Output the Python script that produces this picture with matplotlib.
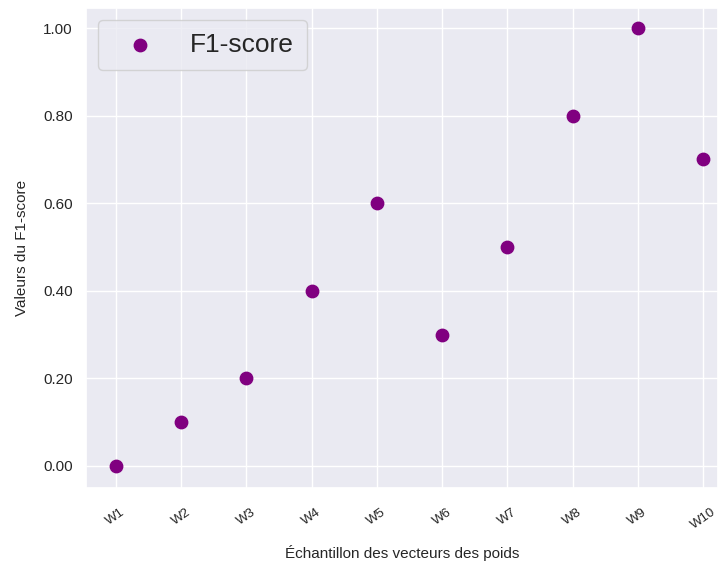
import matplotlib
matplotlib.use("Agg")
import matplotlib.pyplot as plt
import seaborn as sns
from matplotlib.ticker import FormatStrFormatter

sns.set_theme(style="darkgrid")
plt.rcParams['font.family'] = ['Liberation Sans', 'DejaVu Sans']

labels = ["W1", "W2", "W3", "W4", "W5", "W6", "W7", "W8", "W9", "W10"]
f1_scores = [0.0, 0.1, 0.2, 0.4, 0.6, 0.3, 0.5, 0.8, 1.0, 0.7]

fig = plt.figure(figsize=(7.21, 5.64), dpi=100)
ax = fig.add_axes([0.119, 0.135, 0.877, 0.851])
x = list(range(len(labels)))
ax.scatter(x, f1_scores, s=80, color="purple", label="F1-score", zorder=3)
ax.set_xticks(x)
ax.set_xticklabels(labels, rotation=35, fontsize=9.5)
ax.tick_params(axis="x", pad=7)
ax.yaxis.set_major_formatter(FormatStrFormatter("%.2f"))
ax.tick_params(axis="y", labelsize=11)
ax.set_xlim(-0.46, 9.23)
ax.set_ylim(-0.05, 1.046)
ax.set_xlabel("Échantillon des vecteurs des poids", fontsize=11, labelpad=10)
ax.set_ylabel("Valeurs du F1-score", fontsize=11, labelpad=10)
ax.legend(loc="upper left", fontsize=19, markerscale=1.0, handletextpad=0.8,
          handlelength=2.2, borderpad=0.5, borderaxespad=0.45)
fig.savefig("out.png", dpi=100)
